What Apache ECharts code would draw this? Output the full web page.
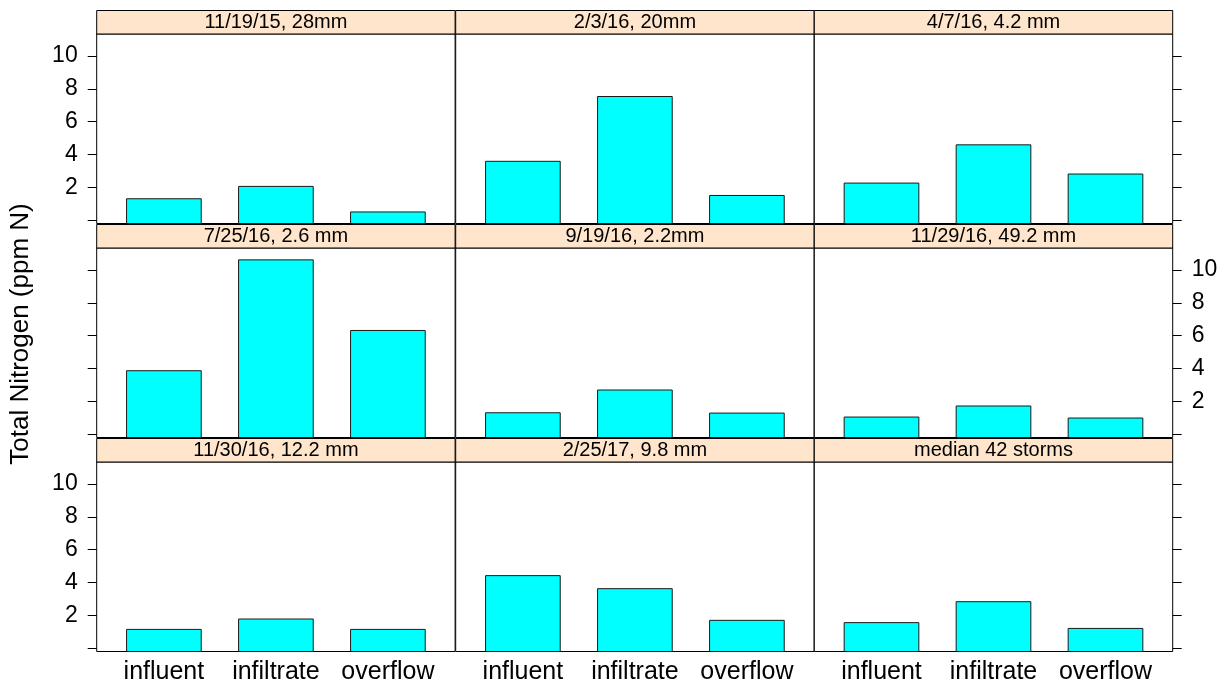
<!DOCTYPE html>
<html>
<head>
<meta charset="utf-8">
<script src="https://cdn.jsdelivr.net/npm/echarts@6/dist/echarts.min.js"></script>
<style>
  html, body { margin: 0; padding: 0; background: #ffffff; }
  #chart { width: 1231px; height: 686px; }
</style>
</head>
<body>
<div id="chart"></div>
<script>
// Sampling points along the treatment path
const categories = ['influent', 'infiltrate', 'overflow'];

// Storm events, panels in reading order (top-left to bottom-right)
const panelTitles = [
  '11/19/15, 28mm', '2/3/16, 20mm', '4/7/16, 4.2 mm',
  '7/25/16, 2.6 mm', '9/19/16, 2.2mm', '11/29/16, 49.2 mm',
  '11/30/16, 12.2 mm', '2/25/17, 9.8 mm', 'median 42 storms'
];

// Total nitrogen (ppm N) per storm, one array per sampling point
const influent   = [1.33, 3.60, 2.28, 3.88, 1.33, 1.07, 1.17, 4.43, 1.58];
const infiltrate = [2.08, 7.53, 4.60, 10.60, 2.71, 1.74, 1.80, 3.64, 2.85];
const overflow   = [0.53, 1.53, 2.83, 6.32, 1.31, 1.01, 1.17, 1.72, 1.23];

// Axis ticks and labels
const yTickValues  = [0, 2, 4, 6, 8, 10];
const yLabelValues = [2, 4, 6, 8, 10];
const yLimits = [-0.17, 11.32];
const xLimits = [0.4, 3.6];
const yTitle = 'Total Nitrogen (ppm N)';

// ---- layout (pixels) ----
const FONT = 'Liberation Sans, Arial, Helvetica, sans-serif';
const colLeft = [96.7, 455.7, 814.3];
const panelWidth = 358.4;
const panelTop = [34, 248, 462];
const panelHeight = 189.5;
const stripHeight = 23.5;
const barHalfWidth = 1 / 3;   // bars fill 2/3 of each category slot

const valuesByCategory = [influent, infiltrate, overflow];

const grids = [], xAxes = [], yAxes = [], series = [], graphics = [];

panelTitles.forEach((title, i) => {
  const r = Math.floor(i / 3), c = i % 3;
  grids.push({
    left: colLeft[c], top: panelTop[r], width: panelWidth, height: panelHeight,
    show: true, borderColor: '#000', borderWidth: 1, backgroundColor: '#fff'
  });

  xAxes.push({
    gridIndex: i, type: 'value', min: xLimits[0], max: xLimits[1],
    axisLine: { show: false }, splitLine: { show: false },
    axisTick: { show: false },
    axisLabel: {
      show: r === 2, customValues: [1, 2, 3], margin: 8,
      fontFamily: FONT, fontSize: 25, color: '#000',
      formatter: v => categories[Math.round(v) - 1]
    }
  });

  const hasTicks = c !== 1;
  const showLabels = (c === 0 && r !== 1) || (c === 2 && r === 1);
  yAxes.push({
    gridIndex: i, type: 'value', min: yLimits[0], max: yLimits[1],
    position: c === 2 ? 'right' : 'left',
    axisLine: { show: false }, splitLine: { show: false },
    axisTick: {
      show: hasTicks, customValues: yTickValues, length: 9, inside: false,
      lineStyle: { color: '#000', width: 1 }
    },
    axisLabel: {
      show: showLabels, customValues: yLabelValues, margin: 19,
      fontFamily: FONT, fontSize: 23, color: '#000'
    }
  });

  series.push({
    type: 'custom', xAxisIndex: i, yAxisIndex: i,
    data: categories.map((_, k) => [k + 1, valuesByCategory[k][i]]),
    encode: { x: 0, y: 1 },
    renderItem: (params, api) => {
      const x = api.value(0), v = api.value(1);
      const p0 = api.coord([x - barHalfWidth, yLimits[0]]);
      const p1 = api.coord([x + barHalfWidth, v]);
      return {
        type: 'rect',
        shape: { x: p0[0], y: p1[1], width: p1[0] - p0[0], height: p0[1] - p1[1] },
        style: { fill: '#00FFFF', stroke: '#1a1a1a', lineWidth: 1 }
      };
    }
  });

  // strip with the storm label above each panel
  graphics.push({
    type: 'rect', z: 10,
    shape: { x: colLeft[c], y: panelTop[r] - stripHeight, width: panelWidth, height: stripHeight },
    style: { fill: '#FFE5CC', stroke: '#000', lineWidth: 1 }
  });
  graphics.push({
    type: 'text', z: 11,
    x: colLeft[c] + panelWidth / 2, y: panelTop[r] - stripHeight / 2,
    style: {
      text: title, fontFamily: FONT, fontSize: 20, fill: '#000',
      align: 'center', verticalAlign: 'middle'
    }
  });
});

graphics.push({
  type: 'text', z: 11, x: 21, y: 334, rotation: Math.PI / 2,
  style: {
    text: yTitle, fontFamily: FONT, fontSize: 26, fill: '#000',
    align: 'center', verticalAlign: 'middle'
  }
});

const chart = echarts.init(document.getElementById('chart'), null, { renderer: 'canvas' });
chart.setOption({
  animation: false,
  backgroundColor: '#ffffff',
  grid: grids, xAxis: xAxes, yAxis: yAxes, series: series,
  graphic: graphics
});
</script>
</body>
</html>
